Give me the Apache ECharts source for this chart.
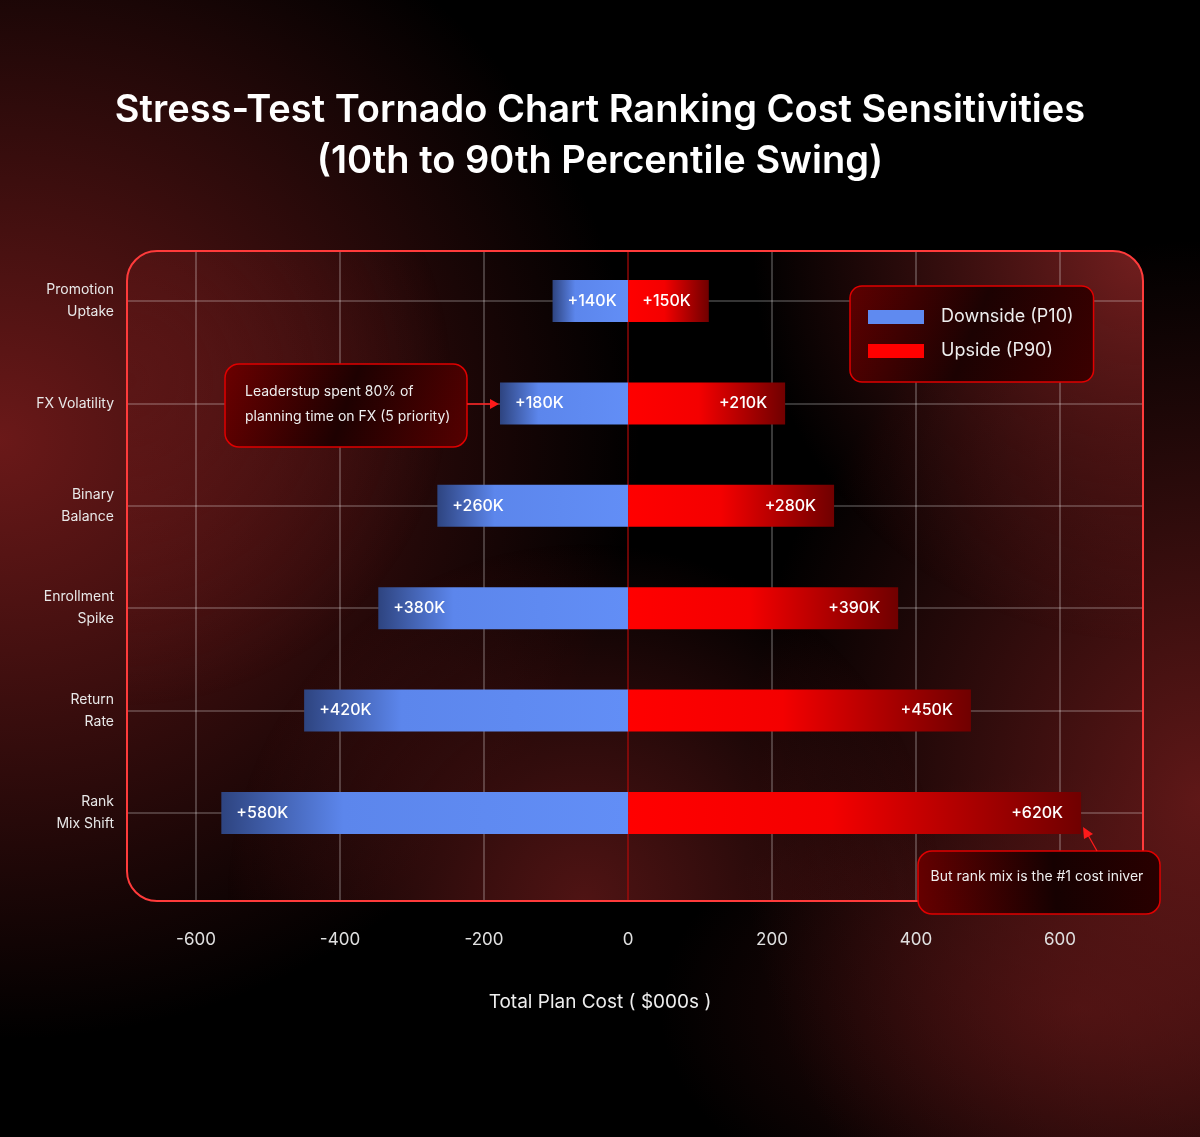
<!DOCTYPE html>
<html>
<head>
<meta charset="utf-8">
<title>Stress-Test Tornado Chart</title>
<script src="https://cdn.jsdelivr.net/npm/echarts@6/dist/echarts.min.js"></script>
<style>
    html, body { margin: 0; padding: 0; background: #000; }
    #chart {
        width: 1200px;
        height: 1137px;
        background:
            radial-gradient(ellipse 640px 600px at 0px 440px, rgba(112,26,26,0.95), rgba(112,26,26,0)),
            radial-gradient(ellipse 460px 560px at 1200px 800px, rgba(105,26,26,0.9), rgba(105,26,26,0)),
            radial-gradient(ellipse 420px 240px at 1080px 1010px, rgba(80,18,18,0.7), rgba(80,18,18,0)),
            #000;
    }
</style>
</head>
<body>
<div id="chart"></div>
<script>
const categories = ['Promotion\nUptake', 'FX Volatility', 'Binary\nBalance', 'Enrollment\nSpike', 'Return\nRate', 'Rank\nMix Shift']

// bar extents as drawn, in $000s (downside runs left of zero)
const downside = [-105, -178, -265, -347, -450, -565]
const upside = [112, 218, 286, 375, 476, 629]

// labels printed on the bars
const downLabels = ['+140K', '+180K', '+260K', '+380K', '+420K', '+580K']
const upLabels = ['+150K', '+210K', '+280K', '+390K', '+450K', '+620K']

const xTicks = [-600, -400, -200, 0, 200, 400, 600]

const chart = echarts.init(document.getElementById('chart'), null, {renderer: 'canvas'})

const grad = (x2, y2, stops) => new echarts.graphic.LinearGradient(0, 0, x2, y2,
    stops.map(s => ({offset: s[0], color: s[1]})))

const radial = (cx, cy, r, color) => new echarts.graphic.RadialGradient(cx, cy, r, [
    {offset: 0, color: color},
    {offset: 1, color: 'rgba(120,30,30,0)'}
])

const box = {x: 127, y: 251, width: 1016, height: 650, r: 30}

// zero line red, others soft grey
const vLineColors = xTicks.map(t => t === 0 ? 'rgba(190,10,10,0.75)' : 'rgba(255,255,255,0.3)')

const option = {
    backgroundColor: 'transparent',
    textStyle: {fontFamily: 'Inter'},
    title: [{
        text: 'Stress-Test Tornado Chart Ranking Cost Sensitivities\n(10th to 90th Percentile Swing)',
        left: 'center',
        top: 80,
        textStyle: {color: '#fff', fontSize: 38, fontWeight: 600, lineHeight: 51, fontFamily: 'Inter'}
    }, {
        text: 'Total Plan Cost ( $000s )',
        left: 'center',
        top: 988,
        textStyle: {color: '#eee', fontSize: 19, fontWeight: 400, fontFamily: 'Inter'}
    }],
    legend: {
        orient: 'vertical',
        left: 850,
        top: 286,
        padding: [22, 20, 22, 18],
        itemWidth: 56,
        itemHeight: 14,
        itemGap: 16,
        backgroundColor: grad(1, 1, [[0, '#5e0000'], [0.5, '#1c0202'], [1, '#3c0000']]),
        borderColor: '#e00000',
        borderWidth: 1.5,
        borderRadius: 12,
        textStyle: {color: '#eee', fontSize: 18, padding: [0, 0, 0, 12]},
        data: [
            {name: 'Downside (P10)', icon: 'rect', itemStyle: {color: '#5f8af0'}},
            {name: 'Upside (P90)', icon: 'rect', itemStyle: {color: '#ff0000'}}
        ]
    },
    grid: [
        // bars: rows sit on the category ticks
        {left: 127, right: 57, top: 301, bottom: 324},
        // tick labels and vertical lines
        {left: 196, right: 140, top: 251, bottom: 236}
    ],
    xAxis: [{
        gridIndex: 0,
        type: 'value',
        min: -696,
        max: 715,
        show: false
    }, {
        gridIndex: 1,
        type: 'value',
        min: xTicks[0],
        max: xTicks[xTicks.length - 1],
        interval: xTicks[1] - xTicks[0],
        axisLine: {show: false},
        axisTick: {show: false},
        axisLabel: {color: '#e0e0e0', fontSize: 17, margin: 30},
        splitLine: {show: true, lineStyle: {color: vLineColors, width: 1.5}}
    }],
    yAxis: [{
        gridIndex: 0,
        type: 'category',
        data: categories,
        inverse: true,
        boundaryGap: false,
        axisLine: {show: false},
        axisTick: {show: false},
        axisLabel: {color: '#e8e8e8', fontSize: 14, lineHeight: 22, margin: 13, align: 'right', padding: [8, 0, 0, 0]},
        splitLine: {show: true, lineStyle: {color: 'rgba(255,255,255,0.28)', width: 1.5}}
    }, {
        gridIndex: 1,
        type: 'value',
        show: false
    }],
    series: [{
        name: 'Downside (P10)',
        type: 'bar',
        data: downside,
        barWidth: 42,
        barGap: '-100%',
        clip: false,
        z: 5,
        itemStyle: {color: grad(1, 0, [[0, '#2e4480'], [0.3, '#5c86ec'], [1, '#628ef6']])},
        label: {
            show: true,
            position: 'insideLeft',
            distance: 15,
            color: '#fff',
            fontSize: 16,
            fontWeight: 500,
            formatter: p => downLabels[p.dataIndex]
        }
    }, {
        name: 'Upside (P90)',
        type: 'bar',
        data: upside,
        barWidth: 42,
        barGap: '-100%',
        clip: false,
        z: 5,
        itemStyle: {color: grad(1, 0, [[0, '#ff0000'], [0.45, '#f40000'], [1, '#700000']])},
        label: {
            show: true,
            position: 'insideRight',
            distance: 18,
            color: '#fff',
            fontSize: 16,
            fontWeight: 500,
            formatter: p => upLabels[p.dataIndex]
        }
    }],
    graphic: [
        // glows inside the plot frame
        {type: 'rect', z: -10, shape: box, style: {fill: radial(1, 0, 0.6, 'rgba(135,36,36,0.85)')}},
        {type: 'rect', z: -10, shape: box, style: {fill: radial(0.45, 1, 0.55, 'rgba(105,26,26,0.75)')}},
        {type: 'rect', z: -10, shape: box, style: {fill: radial(0, 0.2, 0.5, 'rgba(95,24,24,0.6)')}},
        // frame
        {type: 'rect', z: 50, shape: box, style: {fill: 'none', stroke: '#ff3b3b', lineWidth: 2}},

        // FX callout
        {
            type: 'rect', z: 60,
            shape: {x: 225, y: 364, width: 242, height: 83, r: 14},
            style: {
                fill: grad(1, 1, [[0, '#6c0000'], [0.5, '#1e0101'], [1, '#560000']]),
                stroke: '#e00000', lineWidth: 1.5
            }
        },
        {
            type: 'text', z: 61, x: 245, y: 404,
            style: {
                text: 'Leaderstup spent 80% of\nplanning time on FX (5 priority)',
                fill: '#eee', fontSize: 14, fontFamily: 'Inter', lineHeight: 25, verticalAlign: 'middle'
            }
        },
        {type: 'line', z: 61, shape: {x1: 467, y1: 404, x2: 491, y2: 404}, style: {stroke: '#ff1a1a', lineWidth: 1.5}},
        {type: 'polygon', z: 61, shape: {points: [[490, 399], [499, 404], [490, 409]]}, style: {fill: '#ff1a1a'}},

        // rank mix callout
        {
            type: 'rect', z: 60,
            shape: {x: 918, y: 851, width: 242, height: 63, r: 14},
            style: {
                fill: grad(1, -0.3, [[0, '#640000'], [0.55, '#160101'], [1, '#2a0000']]),
                stroke: '#e00000', lineWidth: 1.5
            }
        },
        {
            type: 'text', z: 61, x: 1037, y: 877,
            style: {
                text: 'But rank mix is the #1 cost iniver',
                fill: '#eee', fontSize: 14, fontFamily: 'Inter', align: 'center', verticalAlign: 'middle'
            }
        },
        {type: 'line', z: 61, shape: {x1: 1097, y1: 851, x2: 1088, y2: 835}, style: {stroke: '#ff1a1a', lineWidth: 1.2}},
        {type: 'polygon', z: 61, shape: {points: [[1083, 827], [1084, 839], [1093, 834]]}, style: {fill: '#ff1a1a'}}
    ]
}

chart.setOption(option)

window.addEventListener('resize', () => chart.resize())
</script>
</body>
</html>
